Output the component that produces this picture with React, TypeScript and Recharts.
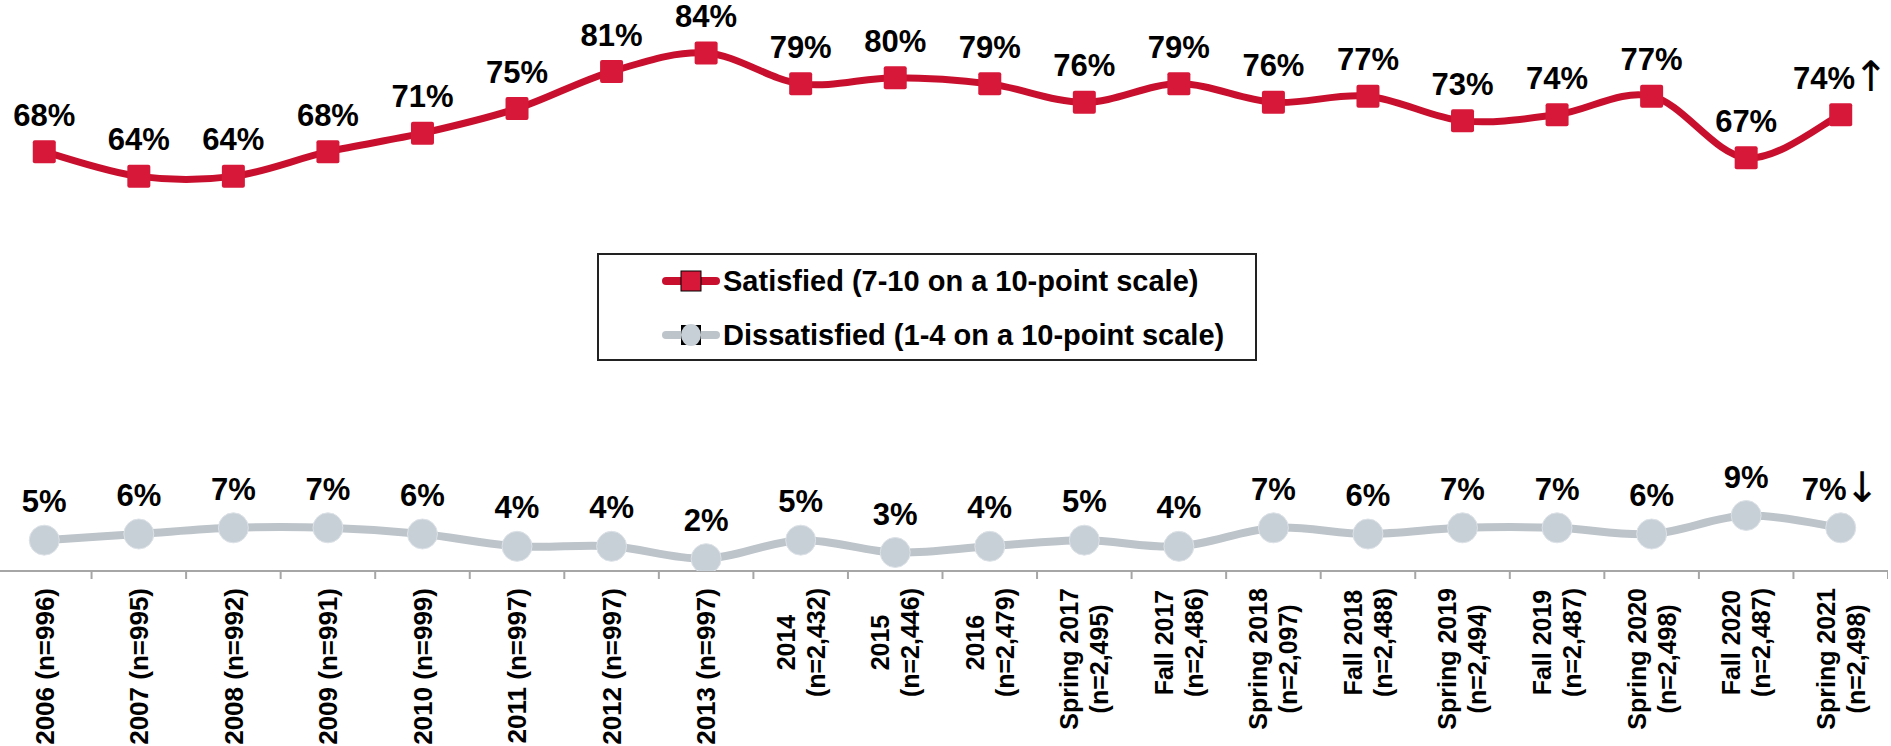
import React from 'react';
import { LineChart, Line, XAxis, YAxis, Legend, LabelList } from 'recharts';

// ---------- data ----------
const categories = [
  '2006 (n=996)',
  '2007 (n=995)',
  '2008 (n=992)',
  '2009 (n=991)',
  '2010 (n=999)',
  '2011 (n=997)',
  '2012 (n=997)',
  '2013 (n=997)',
  '2014\n(n=2,432)',
  '2015\n(n=2,446)',
  '2016\n(n=2,479)',
  'Spring 2017\n(n=2,495)',
  'Fall 2017\n(n=2,486)',
  'Spring 2018\n(n=2,097)',
  'Fall 2018\n(n=2,488)',
  'Spring 2019\n(n=2,494)',
  'Fall 2019\n(n=2,487)',
  'Spring 2020\n(n=2,498)',
  'Fall 2020\n(n=2,487)',
  'Spring 2021\n(n=2,498)',
];

const satisfied = [68, 64, 64, 68, 71, 75, 81, 84, 79, 80, 79, 76, 79, 76, 77, 73, 74, 77, 67, 74];
const dissatisfied = [5, 6, 7, 7, 6, 4, 4, 2, 5, 3, 4, 5, 4, 7, 6, 7, 7, 6, 9, 7];

// significance markers on the latest wave
const satisfiedSig: Record<number, string> = { 19: '\u2191' };
const dissatisfiedSig: Record<number, string> = { 19: '\u2193' };

const SATISFIED_NAME = 'Satisfied (7-10 on a 10-point scale)';
const DISSATISFIED_NAME = 'Dissatisfied (1-4 on a 10-point scale)';
const SERIES_ORDER = ['satisfied', 'dissatisfied'];

const data = categories.map((c, i) => ({
  name: c,
  satisfied: satisfied[i],
  dissatisfied: dissatisfied[i],
}));

// ---------- layout / style ----------
const CHART_W = 1891;
const CHART_H = 746;
const XAXIS_H = 175;
const AXIS_Y = CHART_H - XAXIS_H;
const BAND = CHART_W / categories.length;
const FONT = '"Liberation Sans", Arial, Helvetica, sans-serif';
const ARROW_FONT = '"DejaVu Sans", "Liberation Sans", sans-serif';

const RED_LINE = '#C8102E';
const RED_MARK = '#D81838';
const GRAY_LINE = '#BDC4CA';
const GRAY_MARK = '#C8D0D7';
const AXIS_COLOR = '#A6A6A6';

// Excel-style smoothed line (Catmull-Rom through points, bezier control = 1/6)
const excelSmooth: any = (context: any) => {
  let pts: [number, number][] = [];
  return {
    areaStart() {},
    areaEnd() {},
    lineStart() {
      pts = [];
    },
    point(x: number, y: number) {
      pts.push([+x, +y]);
    },
    lineEnd() {
      if (!pts.length) return;
      context.moveTo(pts[0][0], pts[0][1]);
      for (let i = 0; i < pts.length - 1; i++) {
        const p0 = pts[i - 1] || pts[i];
        const p1 = pts[i];
        const p2 = pts[i + 1];
        const p3 = pts[i + 2] || p2;
        context.bezierCurveTo(
          p1[0] + (p2[0] - p0[0]) / 6,
          p1[1] + (p2[1] - p0[1]) / 6,
          p2[0] - (p3[0] - p1[0]) / 6,
          p2[1] - (p3[1] - p1[1]) / 6,
          p2[0],
          p2[1]
        );
      }
    },
  };
};

let measureCtx: CanvasRenderingContext2D | null = null;
function measureText(text: string, font: string): number {
  if (!measureCtx && typeof document !== 'undefined') {
    const c = document.createElement('canvas');
    measureCtx = c.getContext('2d');
  }
  if (measureCtx) {
    measureCtx.font = font;
    return measureCtx.measureText(text).width;
  }
  return text.length * 14;
}

const TICK_LINE_H = 30;
const TICK_TOP = AXIS_Y + 17;

const CategoryTick = (props: any) => {
  const { x, payload } = props;
  const lines = String(payload.value).split('\n');
  const n = lines.length;
  const fontSize = n > 1 ? 25 : 26;
  const font = `bold ${fontSize}px ${FONT}`;
  const maxW = Math.max(...lines.map((l) => measureText(l, font)));
  const cy = TICK_TOP + maxW / 2;
  const capHalf = (fontSize * 0.716) / 2;
  const tx = x + BAND / 2;
  return (
    <g>
      <line x1={tx} x2={tx} y1={AXIS_Y} y2={AXIS_Y + 8} stroke={AXIS_COLOR} strokeWidth={2} />
      <text
        x={x}
        y={cy}
        transform={`rotate(-90, ${x}, ${cy})`}
        textAnchor="middle"
        fontFamily={FONT}
        fontSize={fontSize}
        fontWeight="bold"
        fill="#000"
      >
        {lines.map((l, i) => (
          <tspan key={i} x={x} dy={i === 0 ? -((n - 1) / 2) * TICK_LINE_H + capHalf : TICK_LINE_H}>
            {l}
          </tspan>
        ))}
      </text>
    </g>
  );
};

const makeLabel = (offset: number, sig: Record<number, string>) => (props: any) => {
  const { x, y, value, index } = props;
  const mark = sig[index];
  return (
    <text
      x={x}
      y={y - offset}
      textAnchor="middle"
      fontFamily={FONT}
      fontSize={31}
      fontWeight="bold"
      fill="#000"
    >
      {`${value}%`}
      {mark ? (
        <tspan fontFamily={ARROW_FONT} fontWeight="normal" fontSize={42} dx={-2} dy={2}>
          {mark}
        </tspan>
      ) : null}
    </text>
  );
};

const SquareDot = (props: any) => {
  const { cx, cy, index } = props;
  if (cx == null || cy == null) return null;
  return (
    <rect key={`sq-${index}`} x={cx - 11.5} y={cy - 11.5} width={23} height={23} rx={2} fill={RED_MARK} />
  );
};

const CircleDot = (props: any) => {
  const { cx, cy, index } = props;
  if (cx == null || cy == null) return null;
  return <circle key={`ci-${index}`} cx={cx} cy={cy} r={15} fill={GRAY_MARK} stroke="#DCE2E7" strokeWidth={1} />;
};

const LegendContent = (props: any) => {
  const payload = [...(props.payload || [])].sort(
    (a: any, b: any) => SERIES_ORDER.indexOf(a.dataKey) - SERIES_ORDER.indexOf(b.dataKey)
  );
  return (
    <div
      style={{
        width: 656,
        height: 104,
        border: '2px solid #222',
        background: '#fff',
        position: 'relative',
      }}
    >
      {payload.map((p: any, i: number) => {
        const isSat = p.dataKey === 'satisfied';
        return (
          <div
            key={i}
            style={{
              position: 'absolute',
              left: 63,
              top: i === 0 ? 3 : 57,
              height: 46,
              display: 'flex',
              alignItems: 'center',
            }}
          >
            <svg width={58} height={26} style={{ display: 'block' }}>
              <line
                x1={4}
                x2={54}
                y1={13}
                y2={13}
                stroke={isSat ? RED_LINE : GRAY_LINE}
                strokeWidth={8}
                strokeLinecap="round"
              />
              {isSat ? (
                <rect x={19} y={3} width={20} height={20} fill={RED_MARK} stroke="#000" strokeWidth={1} />
              ) : (
                <g>
                  <rect x={19} y={3} width={20} height={20} fill="#000" />
                  <ellipse cx={29} cy={13} rx={10} ry={11} fill={GRAY_MARK} />
                </g>
              )}
            </svg>
            <span
              style={{
                fontFamily: FONT,
                fontWeight: 'bold',
                fontSize: 29,
                color: '#000',
                marginLeft: 3,
                whiteSpace: 'nowrap',
                lineHeight: '46px',
              }}
            >
              {p.value}
            </span>
          </div>
        );
      })}
    </div>
  );
};

export default function App() {
  return (
    <div style={{ position: 'absolute', left: -3, top: 0, width: CHART_W, height: CHART_H, background: '#fff' }}>
      <LineChart width={CHART_W} height={CHART_H} data={data} margin={{ top: 0, right: 0, bottom: 0, left: 0 }}>
        <XAxis
          dataKey="name"
          scale="band"
          interval={0}
          height={XAXIS_H}
          tickLine={false}
          axisLine={{ stroke: AXIS_COLOR, strokeWidth: 2 }}
          tick={<CategoryTick />}
        />
        <YAxis hide domain={[0, 92.6]} allowDataOverflow />
        <Legend
          layout="horizontal"
          verticalAlign="middle"
          align="center"
          content={<LegendContent />}
          wrapperStyle={{ left: 600, top: 253, width: 660, height: 108 }}
        />
        <Line
          name={SATISFIED_NAME}
          dataKey="satisfied"
          type={excelSmooth}
          stroke={RED_LINE}
          strokeWidth={7}
          dot={<SquareDot />}
          activeDot={false}
          isAnimationActive={false}
        >
          <LabelList dataKey="satisfied" content={makeLabel(26, satisfiedSig)} />
        </Line>
        <Line
          name={DISSATISFIED_NAME}
          dataKey="dissatisfied"
          type={excelSmooth}
          stroke={GRAY_LINE}
          strokeWidth={8}
          dot={<CircleDot />}
          activeDot={false}
          isAnimationActive={false}
        >
          <LabelList dataKey="dissatisfied" content={makeLabel(28, dissatisfiedSig)} />
        </Line>
      </LineChart>
    </div>
  );
}
